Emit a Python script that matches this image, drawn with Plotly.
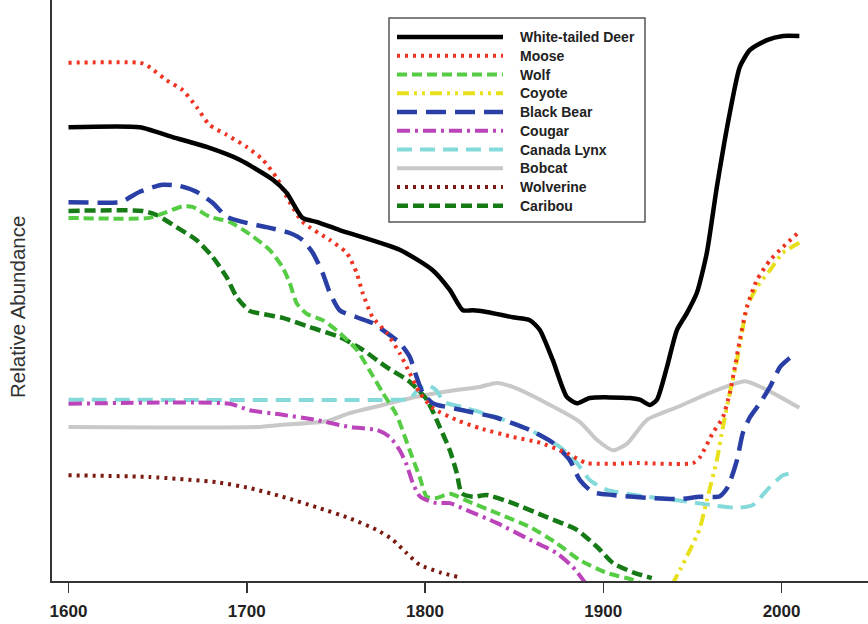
import plotly.graph_objects as go

# ---------------- data (years, relative abundance 0-100) ----------------
deer_x = [1600, 1640, 1658.4, 1677.5, 1696, 1714.5, 1722.4, 1731.3, 1739.2, 1752.1, 1785.8, 1804.3, 1813.9,
          1821.2, 1826.8, 1834.6, 1849.2, 1858.8, 1864.4, 1871.7, 1879.5, 1885.2, 1892.4, 1914.9, 1920.5,
          1926.1, 1930.1, 1935.7, 1941.3, 1946.9, 1952.5, 1958.1, 1963.7, 1971, 1976.6, 1982.3, 1991.8,
          2000.8, 2010]
deer_y = [78.1, 78.1, 76.4, 74.7, 72.5, 69.1, 66.8, 62.5, 61.8, 60.4, 57, 53.5, 50.1,
          46.6, 46.6, 46.3, 45.4, 44.9, 43.2, 38, 31.7, 30.6, 31.5, 31.5, 31.2,
          30.3, 31.2, 36.8, 43.2, 46.1, 49.6, 56.5, 67.8, 80.6, 88.5, 91.4, 93.1,
          93.8, 93.8]

moose_x = [1600, 1640, 1643.8, 1655, 1664, 1671.8, 1679.1, 1688.7, 1700, 1709, 1716.8, 1722.4, 1731.3,
           1746.5, 1756, 1761.7, 1765, 1770.6, 1778.5, 1785.8, 1791.4, 1797, 1804.3, 1817.8, 1830.7,
           1849.2, 1864.4, 1879.5, 1890.8, 1920, 1950.3, 1954.2, 1961.5, 1967.1, 1971, 1973.8, 1976.6,
           1980.6, 1986.2, 1993.5, 2000.8, 2009.2]
moose_y = [89.2, 89.2, 88.8, 86.2, 84.5, 81.6, 78.5, 76.8, 74.7, 72.5, 69.4, 66.1, 61.8,
           58.7, 56.5, 53, 49.6, 45.4, 42.7, 39.2, 35.8, 32.4, 29.8, 27.7, 26.3,
           24.8, 23.8, 22, 20.3, 20.3, 20.3, 21.3, 25.5, 28.2, 32.4, 36.8, 41.5,
           47.2, 51.8, 55.2, 57.5, 59.9]

wolf_x = [1600, 1645.5, 1655, 1664, 1669.6, 1679.1, 1690.4, 1701.6, 1712.8, 1720.1, 1724.1, 1728, 1733.6,
          1742.6, 1752.1, 1761.7, 1769, 1776.3, 1784, 1791.4, 1797, 1801, 1806.6, 1813.9, 1825.1,
          1840.2, 1858.8, 1873.9, 1886.8, 1902, 1916.6, 1920.5]
wolf_y = [62.5, 62.5, 63.5, 64.5, 64.4, 62.7, 61.8, 59.7, 57, 54, 51.3, 47.8, 46,
          44.9, 42.7, 39.8, 36.2, 32.4, 28.6, 22.5, 17.9, 14.5, 14.3, 15, 13.6,
          11.7, 9.3, 6.5, 3.6, 1.4, 0.2, -0.3]

coyote_x = [1938.5, 1943, 1948.6, 1954.2, 1958.1, 1963.7, 1967.1, 1971, 1975, 1977.8, 1980.6, 1986.2,
            1993.5, 2000.8, 2010]
coyote_y = [-0.7, 1.9, 5.3, 9.1, 13.9, 20.8, 26.5, 32.4, 38, 42.7, 47.2, 50.6,
            53.5, 56.5, 58.2]

bear_x = [1600, 1628.6, 1632, 1640, 1652.8, 1662.3, 1671.8, 1680.8, 1688.7, 1697.7, 1711.1, 1724.1, 1731.3,
          1737, 1742.6, 1746.5, 1752.1, 1761.7, 1770.6, 1778.5, 1785.8, 1791.4, 1795.3, 1798.7, 1804.3,
          1821.2, 1840.2, 1858.8, 1871.7, 1881.2, 1886.8, 1894.1, 1905.4, 1924.4, 1943, 1954.2, 1965.4,
          1969.9, 1975, 1978.3, 1982.3, 1987.9, 1993.5, 1999.1, 2004.7, 2006.4]
bear_y = [65.2, 65.2, 65.6, 67, 68.2, 68, 67, 65.1, 62.7, 61.8, 60.9, 59.9, 58.7,
          56.5, 53, 49.7, 46.6, 45.4, 44.4, 42.7, 41, 38.6, 35.1, 32.4, 30.6,
          29.4, 28.1, 26, 23.8, 20.8, 17.4, 15.3, 14.8, 14.3, 14.1, 14.5, 14.6,
          16.2, 20.8, 25.5, 28.2, 30.6, 33.4, 36.8, 38.4, 38.6]

cougar_x = [1600, 1690.4, 1701.6, 1720.1, 1739.2, 1757.7, 1772.9, 1780.2, 1785.8, 1789.7, 1793.1, 1797,
            1801, 1806.6, 1813.9, 1823.4, 1840.2, 1858.8, 1873.9, 1882.9, 1889.6]
cougar_y = [30.5, 30.5, 29.4, 28.6, 27.7, 26.5, 26, 24.8, 22.5, 20, 16.9, 14.6,
            13.9, 13.4, 13.4, 12.2, 10, 7.1, 4.8, 2.4, -0.2]

lynx_x = [1600, 1785.8, 1791.4, 1796, 1801.5, 1806, 1811, 1821.2, 1840.2, 1858.8, 1875.6, 1885.2, 1892.4,
          1902, 1924.4, 1941.3, 1959.8, 1975, 1983.9, 1993.5, 2000.8, 2006.4]
lynx_y = [31.2, 31.2, 31.3, 32.9, 33.7, 32.9, 30.8, 29.9, 28.2, 26, 23.1, 20.3, 17.4,
          15.7, 14.5, 13.9, 13.1, 12.6, 13.1, 16.2, 18.2, 18.6]

bobcat_x = [1600, 1705.5, 1720.1, 1744.8, 1757.7, 1776.3, 1795.3, 1813.9, 1830.7, 1840.2, 1849.2, 1868.3,
            1886.8, 1896.4, 1905.4, 1913.2, 1924.4, 1941.3, 1959.8, 1979.5, 1991.8, 2010]
bobcat_y = [26.5, 26.5, 26.9, 27.5, 28.9, 30.3, 31.7, 32.7, 33.4, 34.1, 33.4, 30.6,
            27.4, 24.3, 22.5, 23.6, 27.7, 29.9, 32.4, 34.4, 32.9, 29.8]

wolverine_x = [1600, 1645.5, 1683.1, 1701.6, 1720.1, 1739.2, 1757.7, 1772.9, 1781.9, 1789.7, 1797,
               1808.3, 1818.4]
wolverine_y = [18.2, 17.9, 17, 16, 14.5, 12.7, 10.8, 8.8, 7.1, 4.8, 2.8, 1.5, 0.7]

caribou_x = [1600, 1641.5, 1649.4, 1660.6, 1671.8, 1680.8, 1688.7, 1694.3, 1701.6, 1710, 1720.1, 1735.3,
             1752.1, 1765, 1778.5, 1791.4, 1801, 1808.3, 1813.9, 1817.8, 1820.6, 1826.8, 1834.6, 1849.2,
             1868.3, 1885.2, 1896.4, 1905.4, 1916.6, 1927.2]
caribou_y = [63.7, 63.7, 63, 60.9, 58.7, 55.8, 52.3, 48.9, 46.5, 45.9, 45.3, 43.7,
             42, 39.8, 36.8, 34.3, 31.2, 26.5, 22.5, 18.6, 15.1, 14.5, 14.8, 13.4,
             11, 8.8, 5.9, 3.1, 1.5, 0.5]

species = ["White-tailed Deer", "Moose", "Wolf", "Coyote", "Black Bear",
           "Cougar", "Canada Lynx", "Bobcat", "Wolverine", "Caribou"]
xs = [deer_x, moose_x, wolf_x, coyote_x, bear_x, cougar_x, lynx_x, bobcat_x, wolverine_x, caribou_x]
ys = [deer_y, moose_y, wolf_y, coyote_y, bear_y, cougar_y, lynx_y, bobcat_y, wolverine_y, caribou_y]

x_ticks = [1600, 1700, 1800, 1900, 2000]

# ---------------- styles ----------------
FONT = "Liberation Sans, Arial, sans-serif"
colors = ["#000000", "#ee3322", "#55cc44", "#e8e01c", "#2a3fa6",
          "#bb44bb", "#84dada", "#c8c8c8", "#7a1a10", "#167a16"]
widths = [4.5, 4, 4, 4, 4.5, 4, 4, 4, 4, 4.5]
dashes = ["solid", "3px,5px", "10px,5px", "12px,5px,3px,5px,3px,5px", "20px,9px",
          "13px,5px,3px,5px", "15px,8px", "solid", "3px,5px", "11px,5px"]
draw_order = [7, 6, 9, 2, 8, 5, 3, 4, 1, 0]

fig = go.Figure()
for i in draw_order:
    fig.add_trace(go.Scatter(
        x=xs[i], y=ys[i], mode="lines", name=species[i], showlegend=False,
        line=dict(color=colors[i], width=widths[i], dash=dashes[i], shape="spline", smoothing=0.6),
        hoverinfo="skip"))

# ---------------- custom legend (paper coordinates) ----------------
L, R, T, B = 52, 868, 0, 581
W, H = R - L, B - T
def px(x):
    return (x - L) / W
def py(y):
    return (B - y) / H

shapes = [dict(type="rect", xref="paper", yref="paper",
               x0=px(389), x1=px(645), y0=py(222), y1=py(18),
               line=dict(color="#555555", width=1.5), fillcolor="white", layer="above")]
annotations = []
for k, name in enumerate(species):
    yy = 37 + k * 18.75
    shapes.append(dict(type="line", xref="paper", yref="paper",
                       x0=px(397), x1=px(503), y0=py(yy), y1=py(yy),
                       line=dict(color=colors[k], width=widths[k], dash=dashes[k]), layer="above"))
    annotations.append(dict(xref="paper", yref="paper", x=px(518), y=py(yy), text="<b>" + name + "</b>",
                            showarrow=False, xanchor="left", yanchor="middle",
                            font=dict(family=FONT, size=14, color="#222222")))

annotations.append(dict(xref="paper", yref="paper", x=px(17), y=py(307), text="Relative Abundance",
                        textangle=-90, showarrow=False, xanchor="center", yanchor="middle",
                        font=dict(family=FONT, size=20.5, color="#333333")))

fig.update_layout(
    width=868, height=624,
    margin=dict(l=L, r=868 - R, t=T, b=624 - B, pad=0),
    paper_bgcolor="white", plot_bgcolor="white",
    shapes=shapes, annotations=annotations, showlegend=False,
    xaxis=dict(range=[1590.75, 2048.5], showgrid=False, zeroline=False,
               showline=True, linecolor="#333333", linewidth=2,
               ticks="outside", ticklen=10, tickwidth=1.5, tickcolor="#333333",
               tickvals=x_ticks, ticktext=[f"<b>{t}</b>" for t in x_ticks],
               tickfont=dict(family=FONT, size=17, color="#222222"),
               ticklabelstandoff=4),
    yaxis=dict(range=[0, 100], showgrid=False, zeroline=False, showticklabels=False,
               showline=True, linecolor="#333333", linewidth=2, ticks=""),
)

fig.write_html("out.html", config={"displayModeBar": False, "staticPlot": True},
               post_script="document.body.style.margin='0px';document.body.style.overflow='hidden';")
